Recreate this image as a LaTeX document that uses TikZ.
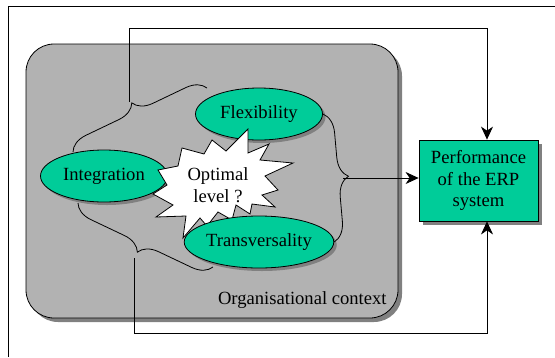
\documentclass[tikz,border=0pt]{standalone}
\usepackage{fontspec}
\setmainfont{Liberation Serif}
\usetikzlibrary{shadows,shapes.geometric,decorations.pathreplacing,arrows.meta,calc}
\definecolor{ctxgray}{HTML}{B2B2B2}
\definecolor{shadegray}{HTML}{808080}
\definecolor{erpgreen}{HTML}{00CC99}

\begin{document}
\begin{tikzpicture}[x=1pt,y=-1pt,line width=0.8pt,
  every node/.style={font=\fontsize{18.6}{21.5}\selectfont},
  shadowA/.style={drop shadow={shadow xshift=3pt,shadow yshift=-3pt,fill=shadegray,opacity=1}},
  shadowB/.style={drop shadow={shadow xshift=4pt,shadow yshift=-4pt,fill=shadegray,opacity=1}},
  ctxbox/.style={draw,fill=ctxgray,rounded corners=28pt,minimum width=372pt,minimum height=274pt,shadowB},
  dim/.style={draw,ellipse,fill=erpgreen,minimum width=127pt,minimum height=52pt,inner sep=0pt,shadowA},
  perfbox/.style={draw,fill=erpgreen,minimum width=119pt,minimum height=81pt,align=center,inner sep=0pt,shadowB},
  burst/.style={draw,fill=white,line join=miter},
  arr/.style={-{Stealth[length=13pt,width=12pt,inset=4pt]}},
  curly/.style={decorate,decoration={brace,amplitude=#1}},
]
\useasboundingbox (0,0) rectangle (555,357);

% outer frame (top and left edges)
\draw (8,357) -- (8,6) -- (555,6);

% organisational context
\node[ctxbox] (ctx) at (212,181) {};
\node[anchor=base east,inner sep=0pt] (ctxlabel) at (387,304) {Organisational context};

% result box
\node[perfbox] (perf) at (478.5,180.5) {Performance\\of the ERP\\system};

% feedback loops from the two left braces
\coordinate (utip) at (129,102);
\coordinate (ltip) at (134,258);
\draw[arr] (utip) -- (129,28) -| ($(perf.north)+(8.5,0)$);
\draw[arr] (ltip) -- (134,333) -| ($(perf.south)+(8.5,0)$);

% braces
\coordinate (ul0) at (73,152);
\coordinate (ul1) at (207,88);
\coordinate (ll0) at (213,267);
\coordinate (ll1) at (78,203);
\draw[curly=19] (ul0) -- (ul1);
\draw[curly=19] (ll0) -- (ll1);

% dimensions
\node[dim] (flex) at (259,114) {Flexibility};
\node[dim] (integ) at (104,176) {Integration};

% optimal level burst
\draw[burst] (248,129) -- (248,153) -- (269,144) -- (260,160) -- (293,163)
  -- (265,176) -- (278,190) -- (262,195) -- (275,207) -- (252,204)
  -- (250,214) -- (236,205) -- (232,220) -- (218,212) -- (207,226)
  -- (200,218) -- (183,238) -- (186,216) -- (156,217) -- (173,205)
  -- (153,194) -- (167,185) -- (158,170) -- (178,166) -- (182,148)
  -- (204,154) -- (212,140) -- (226,151) -- cycle;
\node[align=center,inner sep=0pt] (optimal) at (218,185) {Optimal\\level ?};

\node[dim] (trans) at (259,242) {Transversality};

% right brace and arrow into the result box
\draw[curly=20] (flex.east) -- (trans.east);
\coordinate (rtip) at (343,178);
\draw[arr] (rtip) -- (rtip -| perf.west);
\end{tikzpicture}
\end{document}
